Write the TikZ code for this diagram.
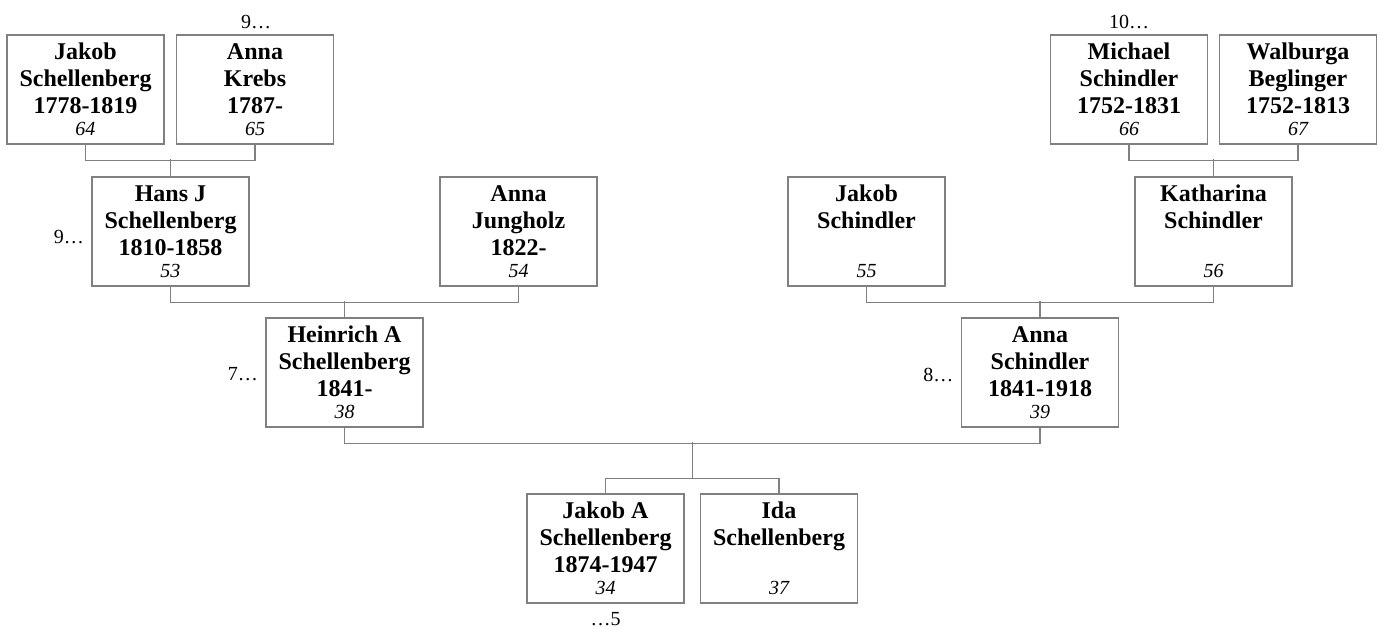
\documentclass[tikz,border=0pt]{standalone}
\usepackage{fontspec}
\setmainfont{Liberation Serif}
\usetikzlibrary{positioning,calc}
\definecolor{boxgray}{RGB}{128,128,128}
\newcommand\pnum[1]{{\fontsize{10}{12}\selectfont\mdseries\itshape #1}}
\tikzset{x=0.5pt, y=-0.5pt,
    person/.style={draw=boxgray, line width=0.7pt, minimum width=78.5pt,
        minimum height=54.5pt, inner sep=0pt, align=center,
        font=\fontsize{12}{13.5}\selectfont\bfseries},
    more/.style={inner sep=0pt, font=\fontsize{10}{12}\selectfont},
    link/.style={draw=boxgray, line width=0.7pt},
    }

\begin{document}
\begin{tikzpicture}
\useasboundingbox (0,0) rectangle (1382,628);
% great-grandparents
\node[person] (jakobs) at (85.5,89.5) {Jakob\\Schellenberg\\1778-1819\\[-2.5pt]\pnum{64}};
\node[person] (annak) at (255,89.5) {Anna\\Krebs\\1787-\\[-2.5pt]\pnum{65}};
\node[person] (michael) at (1129,89.5) {Michael\\Schindler\\1752-1831\\[-2.5pt]\pnum{66}};
\node[person] (walburga) at (1298,89.5) {Walburga\\Beglinger\\1752-1813\\[-2.5pt]\pnum{67}};
% grandparents
\node[person] (hans) at (170.5,231.5) {Hans J\\Schellenberg\\1810-1858\\[-2.5pt]\pnum{53}};
\node[person] (jungholz) at (518.5,231.5) {Anna\\Jungholz\\1822-\\[-2.5pt]\pnum{54}};
\node[person] (jakobsch) at (866.5,231.5) {Jakob\\Schindler\\\mbox{}\\[-2.5pt]\pnum{55}};
\node[person] (katharina) at (1213.5,231.5) {Katharina\\Schindler\\\mbox{}\\[-2.5pt]\pnum{56}};
% parents
\node[person] (heinrich) at (344.5,372.5) {Heinrich A\\Schellenberg\\1841-\\[-2.5pt]\pnum{38}};
\node[person] (annas) at (1040,372.5) {Anna\\Schindler\\1841-1918\\[-2.5pt]\pnum{39}};
% children
\node[person] (jakoba) at (605.5,548.5) {Jakob A\\Schellenberg\\1874-1947\\[-2.5pt]\pnum{34}};
\node[person] (ida) at (779,548.5) {Ida\\Schellenberg\\\mbox{}\\[-2.5pt]\pnum{37}};

% continuation marks
\node[more, above=2.5pt of annak, xshift=0.5pt] (annakmore) {9…};
\node[more, above=2.5pt of michael] (michaelmore) {10…};
\node[more, left=3.5pt of hans, yshift=-2.75pt] (hansmore) {9…};
\node[more, left=3.5pt of heinrich, yshift=-1pt] (heinrichmore) {7…};
\node[more, left=3.5pt of annas, yshift=-1pt] (annasmore) {8…};
\node[more, below=4pt of jakoba] (jakobamore) {…5};

% couples and their children
\draw[link] (jakobs.south) -- ++(0,16) -| (annak.south) (hans.north) -- ++(0,-17);
\draw[link] (michael.south) -- ++(0,16) -| (walburga.south) (katharina.north) -- ++(0,-17);
\draw[link] (hans.south) -- ++(0,16) -| (jungholz.south) (heinrich.north) -- ++(0,-16);
\draw[link] (jakobsch.south) -- ++(0,16) -| (katharina.south) (annas.north) -- ++(0,-16);
\draw[link] (heinrich.south) -- ++(0,16) -| (annas.south);
\draw[link] (jakoba.north) -- ++(0,-15) -| (ida.north);
\coordinate (sibs) at ($(jakoba.north)!0.5!(ida.north)+(0,-15)$);
\draw[link] (sibs) -- ++(0,-36);
\end{tikzpicture}
\end{document}
